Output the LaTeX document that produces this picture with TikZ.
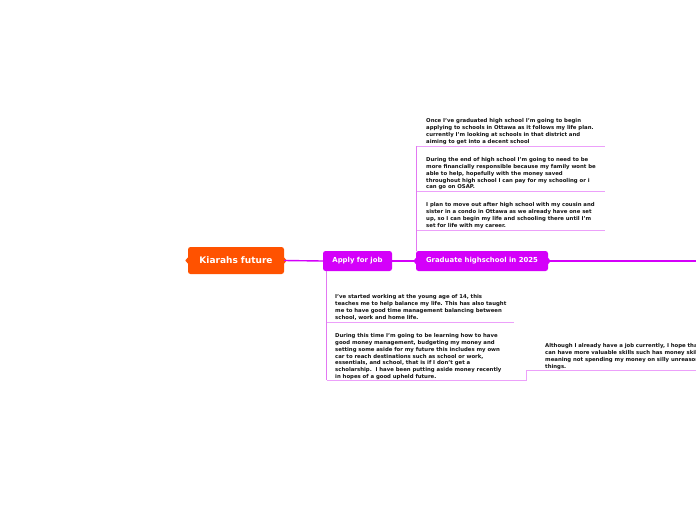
\documentclass[tikz,border=0pt]{standalone}
\usepackage{fontspec}
\setmainfont{DejaVu Sans}
\definecolor{rootorange}{RGB}{255,82,0}
\definecolor{mag}{RGB}{212,0,250}
\definecolor{subline}{RGB}{236,160,250}
\definecolor{subvert}{RGB}{226,120,242}
\definecolor{txt}{RGB}{20,20,20}
\tikzset{
  rootbox/.style={draw=none,fill=rootorange,rounded corners=2.5pt,minimum width=96pt,minimum height=27pt,inner sep=0pt,text=white,font=\fontsize{9}{10}\selectfont\bfseries},
  topicbox/.style={draw=none,fill=mag,rounded corners=2.5pt,minimum height=20pt,inner sep=0pt,text=white,font=\fontsize{6.9}{8}\selectfont\bfseries},
  mainline/.style={draw=mag,line width=1.4pt},
  subh/.style={draw=subline,line width=1pt},
  subv/.style={draw=subvert,line width=1pt},
  para/.style={anchor=north west,inner sep=0pt,align=left,text=txt,font=\fontsize{5.35}{6.75}\selectfont\bfseries},
}
\begin{document}
\begin{tikzpicture}[x=1pt,y=-1pt]
\useasboundingbox (0,0) rectangle (696,520);
\clip (0,0) rectangle (696,520);
\fill[white] (0,0) rectangle (696,520);

% main nodes
\node[rootbox] (root) at (236,260.5) {Kiarahs future};
\node[topicbox,minimum width=69pt] (apply) at (357.5,261) {Apply for job};
\node[topicbox,minimum width=132pt] (grad) at (482,261) {Graduate highschool in 2025};
\coordinate (rightend) at (700,261);

% bumps
\fill[rootorange] ([yshift=-3pt]root.west) -- ([xshift=-2.5pt]root.west) -- ([yshift=3pt]root.west) -- cycle;
\fill[rootorange] ([yshift=-3pt]root.east) -- ([xshift=2.5pt]root.east) -- ([yshift=3pt]root.east) -- cycle;
\fill[mag] ([yshift=-3pt]grad.west) -- ([xshift=-2.5pt]grad.west) -- ([yshift=3pt]grad.west) -- cycle;
\fill[mag] ([yshift=-3pt]grad.east) -- ([xshift=2.5pt]grad.east) -- ([yshift=3pt]grad.east) -- cycle;

% main connectors
\draw[mainline] (root.east) -- (apply.west);
\draw[mainline] (apply.east) -- (grad.west);
\draw[mainline] (grad.east) -- (rightend);

% Graduate subtopics
\coordinate (gtop) at (416.5,251);
\coordinate (g1) at (416.5,146);
\coordinate (g1e) at (605,146);
\coordinate (g2) at (416.5,191);
\coordinate (g2e) at (605,191);
\coordinate (g3) at (416.5,230);
\coordinate (g3e) at (605,230);
\draw[subv] (gtop) -- (g1);
\draw[subh] (g1) -- (g1e);
\draw[subh] (g2) -- (g2e);
\draw[subh] (g3) -- (g3e);

\node[para] (t1) at (426,118.5) {Once I've graduated high school I'm going to begin\\applying to schools in Ottawa as it follows my life plan.\\currently I'm looking at schools in that district and\\aiming to get into a decent school};
\node[para] (t2) at (426,157.5) {During the end of high school I'm going to need to be\\more financially responsible because my family wont be\\able to help, hopefully with the money saved\\throughout high school I can pay for my schooling or i\\can go on OSAP.};
\node[para] (t3) at (426,202.5) {I plan to move out after high school with my cousin and\\sister in a condo in Ottawa as we already have one set\\up, so I can begin my life and schooling there until I'm\\set for life with my career.};

% Apply subtopics
\coordinate (abot) at (326.5,271);
\coordinate (a1) at (326.5,322);
\coordinate (a1e) at (514,322);
\coordinate (a2) at (326.5,380);
\coordinate (a2e) at (526,380);
\coordinate (a3s) at (526,370);
\coordinate (a3e) at (700,370);
\draw[subv] (abot) -- (a2);
\draw[subh] (a1) -- (a1e);
\draw[subh] (a2) -- (a2e) -- (a3s) -- (a3e);

\node[para] (p1) at (335,294.5) {I've started working at the young age of 14, this\\teaches me to help balance my life. This has also taught\\me to have good time management balancing between\\school, work and home life.};
\node[para] (p2) at (335,333.5) {During this time I'm going to be learning how to have\\good money management, budgeting my money and\\setting some aside for my future this includes my own\\car to reach destinations such as school or work,\\essentials, and school, that is if I don't get a\\scholarship.\ \ I have been putting aside money recently\\in hopes of a good upheld future.};
\node[para] (p3) at (545,343.5) {Although I already have a job currently, I hope that I\\can have more valuable skills such has money skills,\\meaning not spending my money on silly unreasonable\\things.};
\end{tikzpicture}
\end{document}
